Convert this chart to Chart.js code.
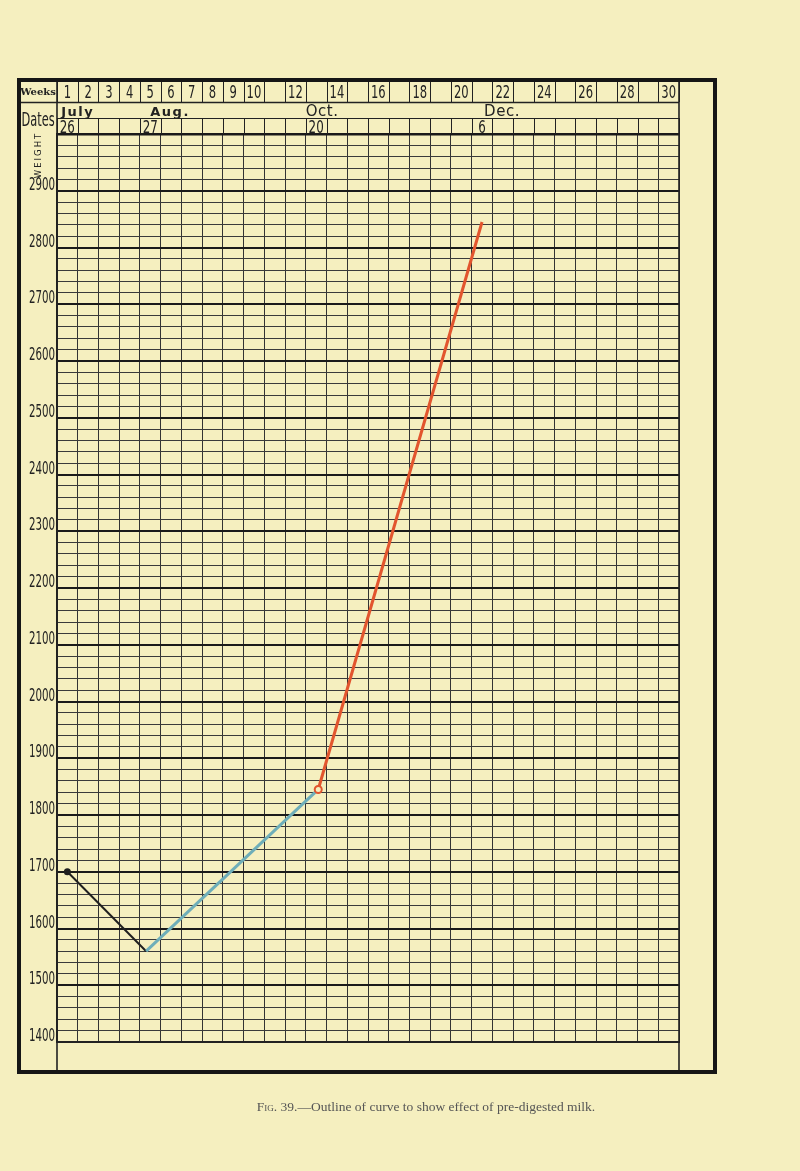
<!DOCTYPE html>
<html>
<head>
<meta charset="utf-8">
<script src="https://cdn.jsdelivr.net/npm/chart.js@4"></script>
<style>
  body { margin: 0; background: #f5efbf; }
  #wrap { position: relative; width: 800px; height: 1171px; }
  #caption {
    position: absolute; left: 0; width: 852px; top: 1099px; text-align: center;
    font-family: 'Liberation Serif', 'DejaVu Serif', serif; font-size: 13.5px; color: #555;
  }
  #caption span { font-variant: small-caps; }
</style>
</head>
<body>
<div id="wrap">
  <canvas id="growthChart" width="800" height="1171"></canvas>
  <div id="caption"><span>Fig.</span> 39.—Outline of curve to show effect of pre-digested milk.</div>
</div>
<script>
// header rows
const weekLabels = ['1','2','3','4','5','6','7','8','9','10','','12','','14','','16','','18','','20','','22','','24','','26','','28','','30'];
const monthLabels = ['July', 'Aug.', 'Oct.', 'Dec.'];
const monthPos = [0.2, 4.5, 12.0, 20.6];
const dateLabels = ['26', '27', '20', '6'];
const dateCols = [0, 4, 12, 20];

// weight axis labels
const weightLabels = [1400, 1500, 1600, 1700, 1800, 1900, 2000, 2100, 2200, 2300, 2400, 2500, 2600, 2700, 2800, 2900];

// curve (x in weeks from start, y in weight)
const curveWeeks = [0.5, 4.3, 12.6, 20.5];
const curveWeights = [1700, 1560, 1845, 2845];
const segmentColors = ['#1f1f1f', '#6eaeb9', '#e2552e'];

const INK = '#222';
const PAPER = '#f5efbf';
const SANS = "'DejaVu Sans', sans-serif";

// tall narrow lettering like the printed chart
function narrowText(ctx, text, x, y, size, align, sx) {
    ctx.save();
    ctx.translate(x, y);
    ctx.scale(sx, 1);
    ctx.font = size + 'px ' + SANS;
    ctx.textAlign = align;
    ctx.fillText(text, 0, 0);
    ctx.restore();
}

const headerPlugin = {
    id: 'header',
    afterDraw(chart) {
        const ctx = chart.ctx;
        const xs = chart.scales.x;
        const ys = chart.scales.y;
        const area = chart.chartArea;
        const left = xs.getPixelForValue(0);
        const right = xs.getPixelForValue(30);
        const col = k => xs.getPixelForValue(k);
        const top = 80, weeksBottom = 102, monthBottom = 118, bottom = 1072;

        ctx.save();
        ctx.strokeStyle = INK;

        // column lines in weeks row and dates row
        ctx.lineWidth = 1;
        for (let k = 0; k <= 30; k++) {
            const x = Math.round(col(k)) + 0.5;
            ctx.beginPath();
            ctx.moveTo(x, top); ctx.lineTo(x, weeksBottom);
            ctx.moveTo(x, monthBottom); ctx.lineTo(x, area.top);
            ctx.stroke();
        }
        ctx.beginPath();
        ctx.lineWidth = 1.3;
        ctx.moveTo(19, weeksBottom + 0.5); ctx.lineTo(right, weeksBottom + 0.5);
        ctx.stroke();
        ctx.beginPath();
        ctx.lineWidth = 1;
        ctx.moveTo(left, monthBottom + 0.5); ctx.lineTo(right, monthBottom + 0.5);
        ctx.stroke();

        // side lines down to the frame
        ctx.lineWidth = 1.6;
        ctx.beginPath();
        ctx.moveTo(left, top); ctx.lineTo(left, bottom);
        ctx.moveTo(right, top); ctx.lineTo(right, bottom);
        ctx.stroke();

        // outer frame
        ctx.lineWidth = 4;
        ctx.strokeStyle = '#161616';
        ctx.strokeRect(19, top, 715 - 19, bottom - top);

        // texts
        ctx.fillStyle = INK;
        ctx.textBaseline = 'alphabetic';
        ctx.textAlign = 'center';
        ctx.font = "bold 10px 'DejaVu Serif', serif";
        ctx.fillText('Weeks', 38, 95);

        weekLabels.forEach((t, k) => {
            if (t) narrowText(ctx, t, (col(k) + col(k + 1)) / 2, 98, 17, 'center', 0.68);
        });

        ctx.textAlign = 'left';
        monthLabels.forEach((t, i) => {
            const bold = i < 2;
            ctx.font = (bold ? 'bold 13px ' : '15px ') + SANS;
            if ('letterSpacing' in ctx) ctx.letterSpacing = bold ? '1.5px' : '0.5px';
            ctx.fillText(t, col(monthPos[i]), 116);
        });
        if ('letterSpacing' in ctx) ctx.letterSpacing = '0px';

        dateLabels.forEach((t, i) => {
            narrowText(ctx, t, (col(dateCols[i]) + col(dateCols[i] + 1)) / 2, 133, 17, 'center', 0.7);
        });

        narrowText(ctx, 'Dates', 38, 126, 19, 'center', 0.6);

        // weight labels, sitting on their lines
        weightLabels.forEach(v => {
            narrowText(ctx, String(v), 55, ys.getPixelForValue(v) - 1, 18, 'right', 0.57);
        });

        ctx.save();
        ctx.translate(39, 155);
        ctx.rotate(-Math.PI / 2);
        ctx.textAlign = 'center';
        ctx.textBaseline = 'middle';
        ctx.font = "8.5px " + SANS;
        if ('letterSpacing' in ctx) ctx.letterSpacing = '2px';
        ctx.fillText('WEIGHT', 0, 0);
        ctx.restore();

        ctx.restore();
    }
};

const datasets = segmentColors.map((c, i) => ({
    data: [
        { x: curveWeeks[i], y: curveWeights[i] },
        { x: curveWeeks[i + 1], y: curveWeights[i + 1] },
    ],
    borderColor: c,
    borderWidth: i === 0 ? 2 : 3,
    pointRadius: i === 0 ? [2.5, 0] : (i === 2 ? [3.5, 0] : 0),
    pointBackgroundColor: i === 2 ? PAPER : c,
    pointBorderColor: c,
    pointBorderWidth: 2,
    fill: false,
    tension: 0,
    order: 3 - i,
}));

const ctx = document.getElementById('growthChart').getContext('2d');
const chart = new Chart(ctx, {
    type: 'line',
    data: { datasets },
    options: {
        responsive: false,
        animation: false,
        layout: { padding: { left: 20, right: 121, top: 134, bottom: 129 } },
        plugins: {
            legend: { display: false },
            tooltip: { enabled: false },
        },
        scales: {
            x: {
                type: 'linear',
                min: 0,
                max: 30,
                ticks: { display: false, stepSize: 1, autoSkip: false },
                grid: { color: '#333', lineWidth: 1, drawTicks: false },
                border: { display: true, color: INK, width: 2 },
                afterFit: scale => { scale.height = 0; },
            },
            y: {
                min: 1400,
                max: 3000,
                ticks: { display: false, stepSize: 20, autoSkip: false },
                grid: {
                    drawTicks: false,
                    color: c => c.tick && c.tick.value % 100 === 0 ? '#1a1a1a' : '#3a3a3a',
                    lineWidth: c => {
                        if (!c.tick) return 1;
                        if (c.tick.value === 3000) return 2.5;
                        return c.tick.value % 100 === 0 ? 2 : 1;
                    },
                },
                border: { display: true, color: INK, width: 1.5 },
                afterFit: scale => { scale.width = 37; },
            },
        },
    },
    plugins: [headerPlugin],
});
</script>
</body>
</html>
